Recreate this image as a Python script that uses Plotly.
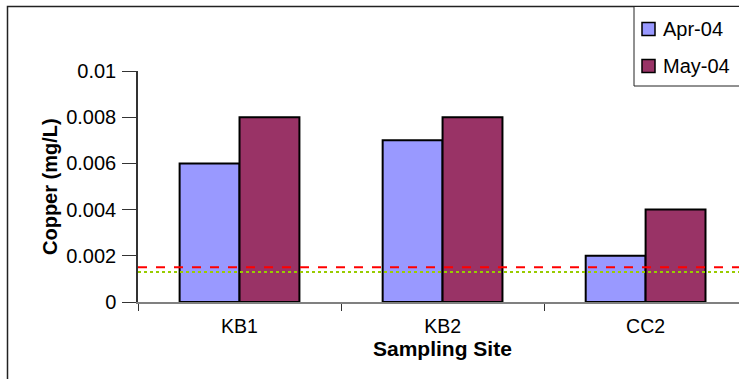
import plotly.graph_objects as go

categories = ["KB1", "KB2", "CC2"]
series_names = ["Apr-04", "May-04"]
apr_values = [0.006, 0.007, 0.002]
may_values = [0.008, 0.008, 0.004]
series_colors = ["#9999FF", "#993366"]
guideline_red = 0.0015
guideline_green = 0.0013
y_ticks = [0, 0.002, 0.004, 0.006, 0.008, 0.01]
y_tick_labels = ["0", "0.002", "0.004", "0.006", "0.008", "0.01"]

W, H = 739, 379
L, R, T, B = 138, 0, 71, 77
PW = W - L - R
PH = H - T - B


def px(p):
    return (p - L) / PW


def py(p):
    return (H - B - p) / PH


FONT = "Liberation Sans, Arial, sans-serif"

fig = go.Figure()
for name, vals, col in zip(series_names, [apr_values, may_values], series_colors):
    fig.add_trace(go.Bar(
        x=categories, y=vals, name=name,
        marker=dict(color=col, line=dict(color="#000000", width=2)),
        showlegend=False,
    ))

shapes = []
# guideline lines
shapes.append(dict(type="line", xref="paper", yref="y", x0=0, x1=1.02,
                   y0=guideline_red, y1=guideline_red,
                   line=dict(color="#FF0000", width=2, dash="dash")))
shapes.append(dict(type="line", xref="paper", yref="y", x0=0, x1=1.02,
                   y0=guideline_green, y1=guideline_green,
                   line=dict(color="#99CC00", width=2, dash="dot")))
# outer chart border
shapes.append(dict(type="rect", xref="paper", yref="paper",
                   x0=px(7.5), x1=px(760), y0=py(400), y1=py(6.5),
                   line=dict(color="#222222", width=1.5), layer="above"))
# legend box
shapes.append(dict(type="rect", xref="paper", yref="paper",
                   x0=px(634), x1=px(760), y0=py(86), y1=py(6.5),
                   line=dict(color="#222222", width=1), fillcolor="white", layer="above"))

annotations = []
legend_rows = [29, 66]
for name, col, yc in zip(series_names, series_colors, legend_rows):
    shapes.append(dict(type="rect", xref="paper", yref="paper",
                       x0=px(642), x1=px(655), y0=py(yc + 6.5), y1=py(yc - 6.5),
                       fillcolor=col, line=dict(color="#000000", width=1.5), layer="above"))
    annotations.append(dict(text=name, xref="paper", yref="paper",
                            x=px(661), y=py(yc), xanchor="left", yanchor="middle",
                            showarrow=False, font=dict(family=FONT, size=20, color="#000")))

annotations.append(dict(text="<b>Sampling Site</b>", xref="paper", yref="paper",
                        x=px(442), y=py(348), xanchor="center", yanchor="middle",
                        showarrow=False, font=dict(family=FONT, size=21, color="#000")))
annotations.append(dict(text="<b>Copper (mg/L)</b>", xref="paper", yref="paper",
                        x=px(50), y=py(187), xanchor="center", yanchor="middle",
                        textangle=-90,
                        showarrow=False, font=dict(family=FONT, size=20, color="#000")))

fig.update_layout(
    width=W, height=H,
    margin=dict(l=L, r=R, t=T, b=B, pad=0),
    paper_bgcolor="white", plot_bgcolor="white",
    barmode="group", bargap=0.41, bargroupgap=0,
    shapes=shapes, annotations=annotations,
    showlegend=False,
    font=dict(family=FONT, size=20, color="#000"),
)
fig.update_xaxes(
    range=[-0.5, 2.46], showgrid=False, showline=True, linecolor="#808080", linewidth=1.5,
    ticks="outside", ticklen=7, tickcolor="#333", tickson="boundaries",
    tickfont=dict(family=FONT, size=19.5, color="#000"), ticklabelstandoff=6,
)
fig.update_yaxes(
    range=[0, 0.01], tickvals=y_ticks, ticktext=y_tick_labels,
    showgrid=False, showline=True, linecolor="#333333", linewidth=1.5,
    ticks="outside", ticklen=14, tickcolor="#333",
    tickfont=dict(family=FONT, size=20, color="#000"), zeroline=False,
    ticklabelstandoff=2,
)

fig.write_html("out.html", config={"displayModeBar": False},
               post_script="document.body.style.margin='0px';document.body.style.overflow='hidden';")
